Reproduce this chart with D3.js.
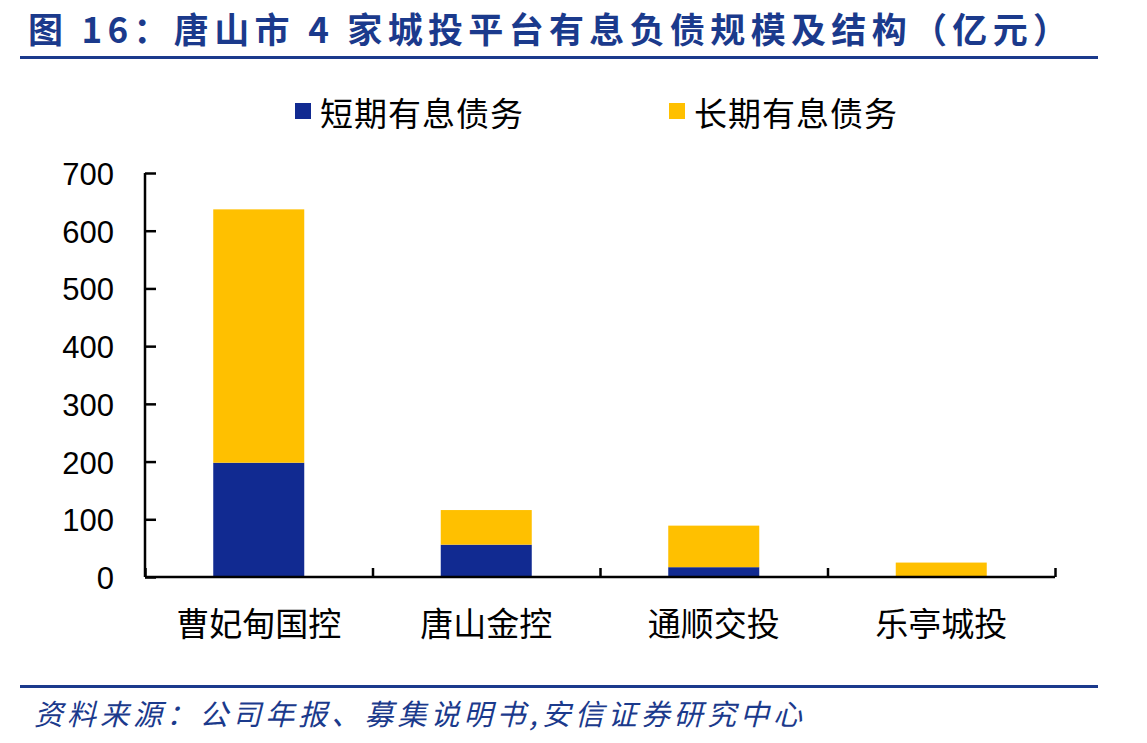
<!DOCTYPE html>
<html><head><meta charset="utf-8">
<script src="https://cdn.jsdelivr.net/npm/d3@7"></script>
<style>body{margin:0;background:#fff}svg{display:block}</style>
</head><body><svg id="c" width="1147" height="743"></svg>
<script>
const categories = ["曹妃甸国控", "唐山金控", "通顺交投", "乐亭城投"];
const shortDebt = [198, 56, 17, 0];
const longDebt = [439, 60, 72, 25];
const seriesNames = ["短期有息债务", "长期有息债务"];
const yTicks = [0, 100, 200, 300, 400, 500, 600, 700];
const title = "图 16：唐山市 4 家城投平台有息负债规模及结构（亿元）";
const source = "资料来源：公司年报、募集说明书,安信证券研究中心";

const colors = ["#112A91", "#FFC000"];
const svg = d3.select("#c");
const cjk = "'Noto Sans CJK SC', sans-serif";
const blue = "#1B3A8C";

svg.append("text").attr("x", 28).attr("y", 43).text(title)
  .attr("textLength", 1040).attr("lengthAdjust", "spacing")
  .attr("font-family", cjk).attr("font-weight", "bold").attr("font-size", 35).attr("fill", blue);
svg.append("rect").attr("x", 20).attr("y", 56).attr("width", 1078).attr("height", 3).attr("fill", blue);
svg.append("rect").attr("x", 20).attr("y", 685).attr("width", 1078).attr("height", 3).attr("fill", blue);
svg.append("text").attr("x", 34).attr("y", 725).text(source)
  .attr("textLength", 768).attr("lengthAdjust", "spacing")
  .attr("font-family", cjk).attr("font-style", "italic").attr("font-size", 29).attr("fill", blue);

const x = d3.scaleBand().domain(categories).range([145, 1055]).paddingInner(0.6).paddingOuter(0.3);
const y = d3.scaleLinear().domain([0, 700]).range([577, 173]);

const stack = d3.stack().keys([0, 1]).value((d, k) => d[k]);
const rows = categories.map((c, i) => { const r = [shortDebt[i], longDebt[i]]; r.cat = c; return r; });
const layers = stack(rows);
layers.forEach((layer, k) => {
  svg.append("g").selectAll("rect").data(layer).join("rect")
    .attr("x", d => x(d.data.cat)).attr("width", x.bandwidth())
    .attr("y", d => y(d[1])).attr("height", d => y(d[0]) - y(d[1]))
    .attr("fill", colors[k]);
});

// y axis
const ya = svg.append("g").attr("transform", "translate(145,0)")
  .call(d3.axisRight(y).tickValues(yTicks).tickSize(11).tickFormat(""));
ya.select(".domain").attr("stroke", "#000").attr("stroke-width", 2.5).attr("d", "M0,173V577");
ya.selectAll(".tick line").attr("stroke", "#000").attr("stroke-width", 2.5);
svg.append("g").selectAll("text").data(yTicks).join("text")
  .attr("x", 114).attr("y", d => y(d) + 12).attr("text-anchor", "end")
  .attr("font-family", "'Liberation Sans', Arial, sans-serif").attr("font-size", 31).text(d => d);

// x axis
const xb = d3.scaleLinear().domain([0, categories.length]).range([145, 1055]);
const xa = svg.append("g").attr("transform", "translate(0,577)")
  .call(d3.axisTop(xb).tickValues(d3.range(0, categories.length + 1)).tickSize(9).tickFormat(""));
xa.select(".domain").attr("stroke", "#000").attr("stroke-width", 2.5).attr("d", "M145,0H1055");
xa.selectAll(".tick line").attr("stroke", "#000").attr("stroke-width", 2.5);
svg.append("g").selectAll("text").data(categories).join("text")
  .attr("x", d => x(d) + x.bandwidth() / 2).attr("y", 636).attr("text-anchor", "middle")
  .attr("font-family", cjk).attr("font-size", 33).text(d => d);

// legend
const lx = [295, 669];
seriesNames.forEach((n, i) => {
  svg.append("rect").attr("x", lx[i]).attr("y", 103).attr("width", 16).attr("height", 16).attr("fill", colors[i]);
  svg.append("text").attr("x", lx[i] + 25).attr("y", 126).text(n)
    .attr("textLength", 203).attr("lengthAdjust", "spacing")
    .attr("font-family", cjk).attr("font-size", 33).attr("fill", "#000");
});
</script></body></html>
